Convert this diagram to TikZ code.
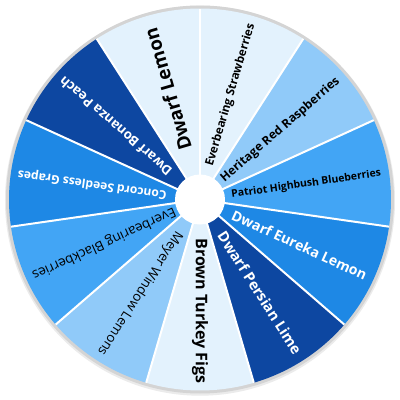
\documentclass[tikz,border=0pt]{standalone}
\usepackage{fontspec}
\setmainfont{Open Sans}
\definecolor{cA}{HTML}{E3F2FD}
\definecolor{cB}{HTML}{90CAF9}
\definecolor{cC}{HTML}{42A5F5}
\definecolor{cD}{HTML}{1E88E5}
\definecolor{cE}{HTML}{0D47A1}
\definecolor{rim}{HTML}{D4D4D4}
\tikzset{
  lbl/.style={inner sep=0pt, anchor=east},
  sep/.style={white, line width=2pt},
}
\newcommand{\segA}{32.7272727}
\begin{document}
\begin{tikzpicture}[x=1pt,y=1pt]
\useasboundingbox (-200,-200.5) rectangle (200,199.5);
\fill[white] (-200,-200.5) rectangle (200,199.5);
% rim and faint shadow
\fill[black!8] (0,-1.2) circle (195);
\fill[rim] (0,0) circle (194);
% segments
\foreach \i/\c in {0/cA,1/cB,2/cC,3/cD,4/cE,5/cA,6/cB,7/cC,8/cD,9/cE,10/cA}{
  \fill[\c] (0,0) -- ({90-\i*\segA}:191)
    arc[start angle={90-\i*\segA}, end angle={90-(\i+1)*\segA}, radius=191] -- cycle;
}
% separators
\foreach \i in {0,...,10}{
  \coordinate (o\i) at ({90-\i*\segA}:191);
}
\coordinate (ctr) at (0,0);
\foreach \i in {0,...,10}{
  \draw[sep] (ctr) -- (o\i);
}
% hub
\node[circle, fill=white, minimum size=50pt, inner sep=0pt] (hub) at (ctr) {};
% labels
\node[lbl, rotate=73.636, text=black] (l0) at (73.636:183) {\resizebox{148pt}{!}{\bfseries Everbearing Strawberries}};
\node[lbl, rotate=40.909, text=black] (l1) at (40.909:183) {\resizebox{153pt}{!}{\bfseries Heritage Red Raspberries}};
\node[lbl, rotate=8.182, text=black] (l2) at (8.182:183) {\resizebox{151pt}{!}{\bfseries Patriot Highbush Blueberries}};
\node[lbl, rotate=-24.545, text=white] (l3) at (-24.545:183) {\resizebox{147pt}{!}{\bfseries Dwarf Eureka Lemon}};
\node[lbl, rotate=-57.273, text=white] (l4) at (-57.273:182) {\resizebox{142pt}{!}{\bfseries Dwarf Persian Lime}};
\node[lbl, rotate=-90, text=black] (l5) at (-90:184) {\resizebox{145pt}{!}{\bfseries Brown Turkey Figs}};
\node[lbl, rotate=-122.727, text=black] (l6) at (-122.727:184) {\resizebox{145pt}{!}{Meyer Window Lemons}};
\node[lbl, rotate=-155.455, text=black] (l7) at (-155.455:184) {\resizebox{156pt}{!}{Everbearing Blackberries}};
\node[lbl, rotate=171.818, text=white] (l8) at (171.818:184) {\resizebox{150pt}{!}{\bfseries Concord Seedless Grapes}};
\node[lbl, rotate=139.091, text=white] (l9) at (139.091:184) {\resizebox{144pt}{!}{\bfseries Dwarf Bonanza Peach}};
\node[lbl, rotate=106.364, text=black] (l10) at (106.364:178) {\resizebox{126pt}{!}{\bfseries Dwarf Lemon}};
\end{tikzpicture}
\end{document}
